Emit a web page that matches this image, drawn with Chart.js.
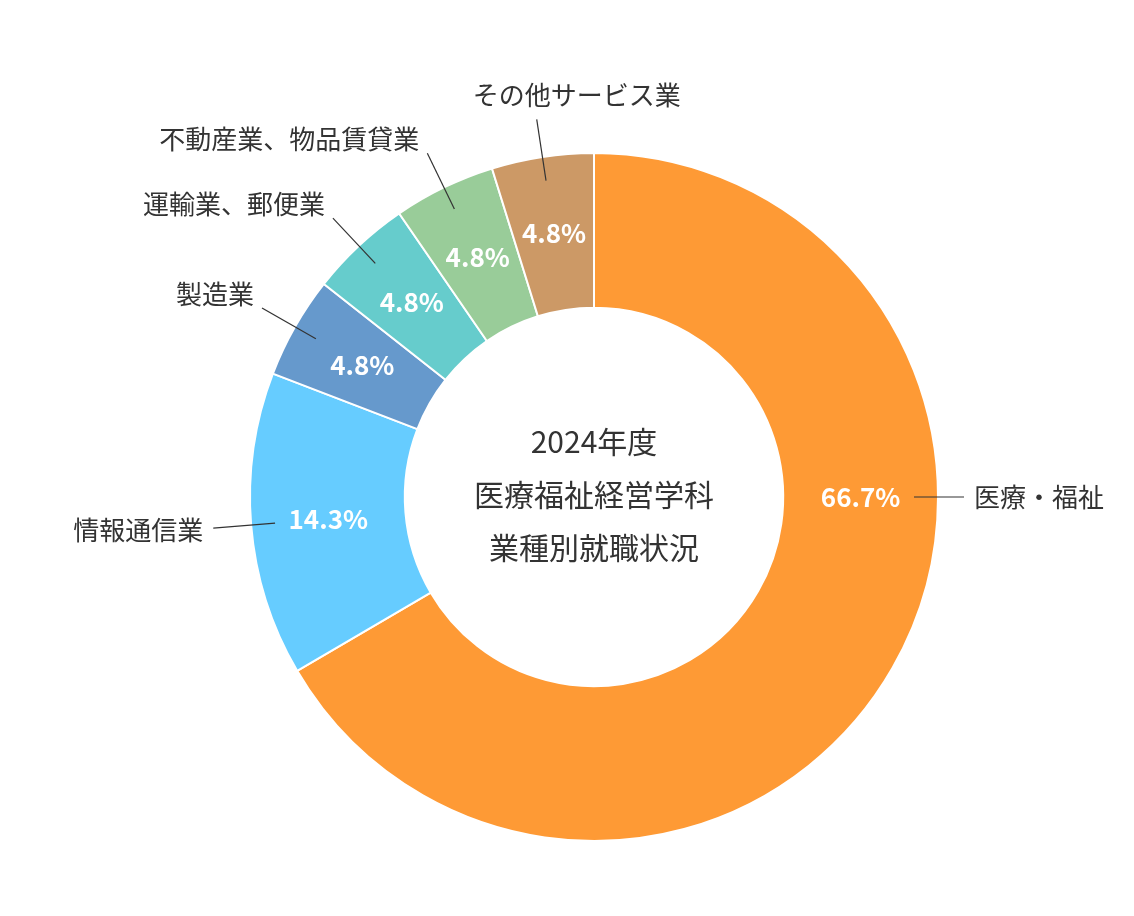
<!DOCTYPE html>
<html><head><meta charset="utf-8">
<script src="https://cdn.jsdelivr.net/npm/chart.js@4"></script>
<style>body{margin:0;background:#fff}</style>
</head><body>
<canvas id="c" width="1134" height="916"></canvas>
<script>
const categories = ["医療・福祉","情報通信業","製造業","運輸業、郵便業","不動産業、物品賃貸業","その他サービス業"];
const values = [66.7, 14.3, 4.8, 4.8, 4.8, 4.8];
const centerTitle = ["2024年度","医療福祉経営学科","業種別就職状況"];
const colors = ["#FE9A35","#66CCFF","#6699CC","#66CCCC","#99CC99","#CC9966"];
const FONT = '"Noto Sans CJK JP","Noto Sans",sans-serif';

const labelPlugin = {
  id:'labels',
  afterDatasetsDraw(chart){
    const ctx = chart.ctx;
    const meta = chart.getDatasetMeta(0);
    meta.data.forEach((arc,i)=>{
      const {x,y,innerRadius,outerRadius,startAngle,endAngle} = arc.getProps(['x','y','innerRadius','outerRadius','startAngle','endAngle'],true);
      let mid = (startAngle+endAngle)/2;
      if(i===0) mid = 0; // horizontal label for the large slice
      const pr = (innerRadius+outerRadius)/2;
      ctx.save();
      ctx.fillStyle='#fff';
      ctx.font='bold 26px '+FONT;
      ctx.textAlign='center';ctx.textBaseline='middle';
      ctx.fillText(values[i].toFixed(1)+'%', x+Math.cos(mid)*pr, y+Math.sin(mid)*pr);
      const r1 = outerRadius-24, r2 = outerRadius+(i===0?26:38);
      const x1=x+Math.cos(mid)*r1,y1=y+Math.sin(mid)*r1,x2=x+Math.cos(mid)*r2,y2=y+Math.sin(mid)*r2;
      ctx.strokeStyle='#333';ctx.lineWidth=1.2;
      ctx.beginPath();ctx.moveTo(x1,y1);ctx.lineTo(x2,y2);ctx.stroke();
      ctx.fillStyle='#333';ctx.font='26px '+FONT;
      if(i===0){ctx.textAlign='left';ctx.fillText(categories[i],x2+10,y2);}
      else if(i===5){ctx.textAlign='center';ctx.fillText(categories[i],x2+40,y2-24);}
      else if(i===1){ctx.textAlign='right';ctx.fillText(categories[i],x2-10,y2+2);}
      else {ctx.textAlign='right';ctx.fillText(categories[i],x2-8,y2-14);}
      ctx.restore();
    });
    const a = meta.data[0];
    ctx.save();
    ctx.fillStyle='#333';ctx.font='30px '+FONT;ctx.textAlign='center';ctx.textBaseline='middle';
    centerTitle.forEach((t,k)=>ctx.fillText(t,a.x,a.y-55+k*53));
    ctx.restore();
  }
};

new Chart(document.getElementById('c'),{
  type:'doughnut',
  data:{labels:categories,datasets:[{data:values,backgroundColor:colors,borderColor:'#fff',borderWidth:2}]},
  options:{
    responsive:false,animation:false,cutout:'55%',
    layout:{padding:{left:249,right:195,top:152,bottom:74}},
    plugins:{legend:{display:false},tooltip:{enabled:false}}
  },
  plugins:[labelPlugin]
});
</script>
</body></html>
